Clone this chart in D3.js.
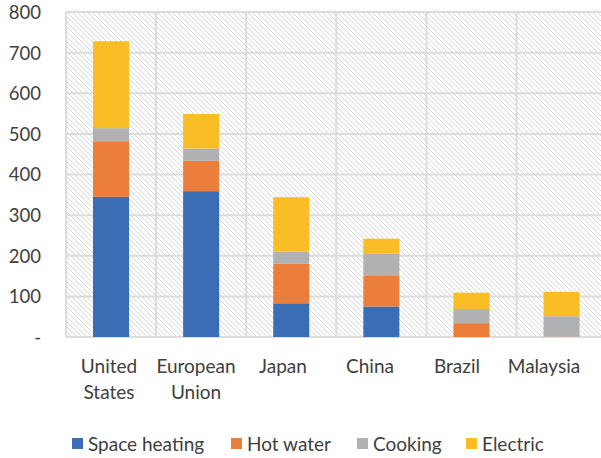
<!DOCTYPE html>
<html><head><meta charset="utf-8">
<script src="https://cdn.jsdelivr.net/npm/d3@7"></script>
<style>body{margin:0;background:#fff;}svg{display:block;font-family:Lato,"Open Sans",sans-serif;}</style>
</head><body><svg id="c" width="601" height="458"></svg>
<script>
const categories = [["United","States"],["European","Union"],["Japan"],["China"],["Brazil"],["Malaysia"]];
const seriesNames = ["Space heating","Hot water","Cooking","Electric"];
const spaceHeating = [345, 359, 83, 75, 0, 0];
const hotWater = [137, 75, 97, 77, 34, 1];
const cooking = [32, 30, 30, 53, 35, 50];
const electric = [214, 85, 134, 37, 40, 60];
const colors = ["#3B6DB5","#EB7E3A","#B0B1B3","#F9BD25"];
const yTicks = [0,100,200,300,400,500,600,700,800];
const yTickLabels = ["-","100","200","300","400","500","600","700","800"];

const svg = d3.select("#c");
const L = 66, R = 606.6, T = 12, B = 337;
const keys = categories.map(c => c.join(" "));
const x = d3.scaleBand().domain(keys).range([L, R]).paddingInner(0.6).paddingOuter(0.3);
const xLab = d3.scalePoint().domain(keys).range([109, 544]);
const y = d3.scaleLinear().domain([0, 800]).range([B, T]);

const defs = svg.append("defs");
const pat = defs.append("pattern").attr("id","hatch").attr("patternUnits","userSpaceOnUse")
  .attr("width",5).attr("height",5);
pat.append("rect").attr("width",5).attr("height",5).attr("fill","#fff");
pat.append("path").attr("d","M-1,-1 L6,6 M4,-1 L6,1 M-1,4 L1,6").attr("stroke","#d2d2d2").attr("stroke-width",0.9);

svg.append("rect").attr("x",L).attr("y",T).attr("width",R-L).attr("height",B-T).attr("fill","url(#hatch)");

svg.append("g").selectAll("line").data(yTicks).join("line")
  .attr("x1",L).attr("x2",R).attr("y1",d=>y(d)).attr("y2",d=>y(d))
  .attr("stroke","#dcdcdc").attr("stroke-width",2);
const step = x.step();
const bounds = d3.range(keys.length+1).map(i => L + i*step);
svg.append("g").selectAll("line").data(bounds).join("line")
  .attr("x1",d=>d).attr("x2",d=>d).attr("y1",T).attr("y2",B)
  .attr("stroke","#dcdcdc").attr("stroke-width",2);

const data = keys.map((k,i)=>({key:k, "Space heating":spaceHeating[i], "Hot water":hotWater[i], "Cooking":cooking[i], "Electric":electric[i]}));
const stack = d3.stack().keys(seriesNames)(data);
svg.append("g").selectAll("g").data(stack).join("g").attr("fill",(d,i)=>colors[i])
  .selectAll("rect").data(d=>d).join("rect")
  .attr("x",d=>x(d.data.key)).attr("width",x.bandwidth())
  .attr("y",d=>y(d[1])).attr("height",d=>Math.max(0,y(d[0])-y(d[1])));

const yAxis = d3.axisLeft(y).tickValues(yTicks).tickFormat((d,i)=>yTickLabels[i]).tickSize(0).tickPadding(0);
const ya = svg.append("g").attr("transform","translate(41,0)").call(yAxis);
ya.select(".domain").remove();
ya.selectAll("text").attr("font-size",18.5).attr("fill","#404040").attr("font-family","Lato,sans-serif").attr("dy","0.35em");

const xl = svg.append("g").selectAll("text").data(categories).join("text")
  .attr("x",(d,i)=>xLab(keys[i])).attr("y",373)
  .attr("text-anchor","middle").attr("font-size",19).attr("fill","#404040");
xl.selectAll("tspan").data(d=>d).join("tspan")
  .attr("x",function(){return d3.select(this.parentNode).attr("x");})
  .attr("dy",(d,i)=>i===0?0:26).text(d=>d);

const legX = [72, 231, 357, 466];
const lg = svg.append("g").selectAll("g").data(seriesNames).join("g")
  .attr("transform",(d,i)=>`translate(${legX[i]},438)`);
lg.append("rect").attr("width",11).attr("height",11).attr("fill",(d,i)=>colors[i]);
lg.append("text").attr("x",16).attr("y",6).attr("dy","0.35em").attr("font-size",19).attr("fill","#404040").text(d=>d);
</script></body></html>
